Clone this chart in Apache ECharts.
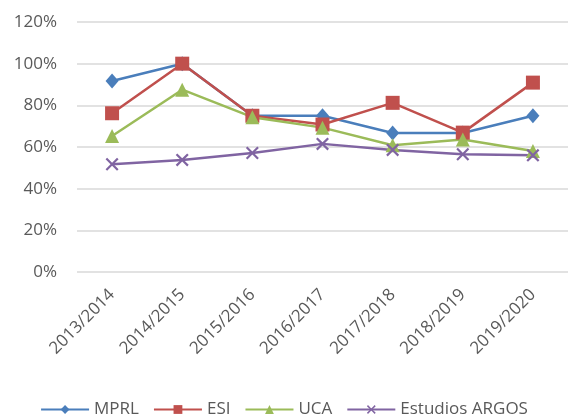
<!DOCTYPE html>
<html>
<head>
<meta charset="utf-8">
<script src="https://cdn.jsdelivr.net/npm/echarts@6/dist/echarts.min.js"></script>
<style>
  html, body { margin: 0; padding: 0; background: #fff; }
  #chart { width: 568px; height: 417px; }
</style>
</head>
<body>
<div id="chart"></div>
<script>
// datos
const categories = ["2013/2014", "2014/2015", "2015/2016", "2016/2017", "2017/2018", "2018/2019", "2019/2020"];
const mprl = [91.7, 100, 75, 75, 66.7, 66.7, 75];
const esi = [76.2, 100, 75, 70.8, 81.2, 66.9, 90.9];
const uca = [65.3, 87.5, 74.3, 69.3, 60.8, 63.6, 58.1];
const argos = [51.7, 53.8, 57.1, 61.5, 58.6, 56.5, 56];
const yTicks = [0, 20, 40, 60, 80, 100, 120];

const crossPath = 'path://M0,1.2L1.2,0L5,3.8L8.8,0L10,1.2L6.2,5L10,8.8L8.8,10L5,6.2L1.2,10L0,8.8L3.8,5Z';
const font = 'Open Sans, Liberation Sans, sans-serif';

const chart = echarts.init(document.getElementById('chart'));

const mkSeries = (name, data, color, symbol, size) => ({
  name: name,
  type: 'line',
  data: data,
  symbol: symbol,
  symbolSize: size,
  lineStyle: { color: color, width: 2.5 },
  itemStyle: { color: color },
  emphasis: { disabled: true },
  animation: false
});

chart.setOption({
  textStyle: { fontFamily: font },
  grid: { left: 77, right: -3, top: 22, bottom: 145 },
  xAxis: {
    type: 'category',
    data: categories,
    boundaryGap: true,
    axisLine: { show: false },
    axisTick: { show: false },
    axisLabel: {
      rotate: 45,
      color: '#595959',
      fontSize: 17,
      margin: 20,
      fontFamily: font
    }
  },
  yAxis: {
    type: 'value',
    min: yTicks[0],
    max: yTicks[yTicks.length - 1],
    interval: 20,
    axisLine: { show: false },
    axisTick: { show: false },
    axisLabel: {
      color: '#595959',
      fontSize: 17,
      margin: 20,
      fontFamily: font,
      formatter: (v) => v + '%'
    },
    splitLine: { lineStyle: { color: '#D9D9D9', width: 1.5 } }
  },
  legend: {
    bottom: -6,
    left: 'center',
    itemWidth: 48,
    itemHeight: 11,
    itemGap: 14,
    textStyle: { color: '#595959', fontSize: 17, fontFamily: font },
    data: ['MPRL', 'ESI', 'UCA', 'Estudios ARGOS']
  },
  series: [
    mkSeries('MPRL', mprl, '#4A7EBB', 'diamond', [13, 15]),
    mkSeries('ESI', esi, '#C0504D', 'rect', 14),
    mkSeries('UCA', uca, '#9BBB59', 'triangle', 14),
    mkSeries('Estudios ARGOS', argos, '#8064A2', crossPath, 13)
  ]
});
</script>
</body>
</html>
